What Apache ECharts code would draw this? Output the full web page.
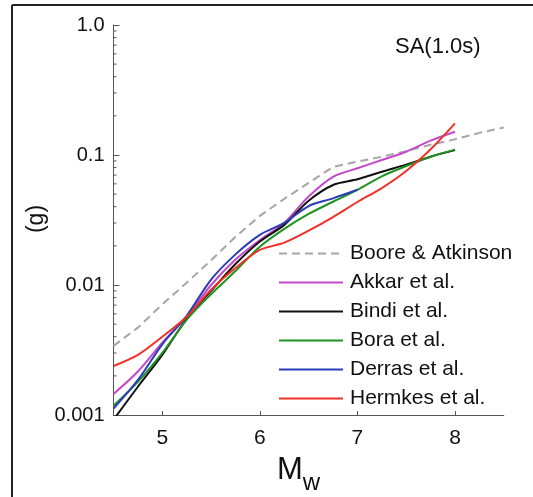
<!DOCTYPE html>
<html>
<head>
<meta charset="utf-8">
<script src="https://cdn.jsdelivr.net/npm/echarts@6/dist/echarts.min.js"></script>
<style>
html,body{margin:0;padding:0;background:#fff;}
#chart{width:533px;height:497px;}
</style>
</head>
<body>
<div id="chart"></div>
<script>
// ---- data ----
const magsFull = [4.5, 4.75, 5.0, 5.25, 5.5, 5.75, 6.0, 6.25, 6.5, 6.75, 7.0, 7.25, 7.5, 7.75, 8.0];
const magsBA = [4.5, 4.75, 5.0, 5.25, 5.5, 5.75, 6.0, 6.25, 6.5, 6.75, 7.0, 7.25, 7.5, 7.75, 8.0, 8.25, 8.5];
const magsDerras = [4.5, 4.75, 5.0, 5.25, 5.5, 5.75, 6.0, 6.25, 6.5, 6.75, 7.0];

const booreAtkinson = [0.0034, 0.0047, 0.0071, 0.0104, 0.0155, 0.0235, 0.034, 0.046, 0.061, 0.081, 0.089, 0.097, 0.107, 0.12, 0.132, 0.148, 0.163];
const akkar   = [0.00145, 0.00216, 0.0036, 0.0057, 0.0100, 0.0157, 0.0222, 0.030, 0.048, 0.068, 0.079, 0.0915, 0.106, 0.129, 0.151];
const bindi   = [0.00092, 0.00165, 0.0029, 0.0055, 0.0090, 0.0145, 0.0216, 0.029, 0.0445, 0.0588, 0.065, 0.0744, 0.0843, 0.097, 0.109];
const bora    = [0.00118, 0.0018, 0.0030, 0.0054, 0.0085, 0.0128, 0.0197, 0.027, 0.0352, 0.0437, 0.054, 0.0686, 0.0823, 0.097, 0.110];
const derras  = [0.00112, 0.00186, 0.0035, 0.0058, 0.0110, 0.0172, 0.0243, 0.030, 0.0405, 0.0464, 0.054];
const hermkes = [0.00238, 0.0029, 0.0040, 0.0057, 0.0092, 0.0135, 0.0186, 0.0212, 0.0262, 0.0333, 0.0435, 0.0557, 0.0753, 0.1106, 0.175];

const seriesNames = ['Boore & Atkinson', 'Akkar et al.', 'Bindi et al.', 'Bora et al.', 'Derras et al.', 'Hermkes et al.'];
const xTicks = [5, 6, 7, 8];
const yTicks = [0.001, 0.01, 0.1, 1];
const yTickLabels = ['0.001', '0.01', '0.1', '1.0'];
const yMinorTicks = [0.002,0.003,0.004,0.005,0.006,0.007,0.008,0.009,
                     0.02,0.03,0.04,0.05,0.06,0.07,0.08,0.09,
                     0.2,0.3,0.4,0.5,0.6,0.7,0.8,0.9];

const pair = (ms, vs) => vs.map((v, i) => [ms[i], v]);
const FONT = '"Liberation Sans", Arial, sans-serif';

const chart = echarts.init(document.getElementById('chart'), null, {renderer: 'canvas'});

function lineSeries(name, ms, vs, color, dashed, smooth) {
  return {
    name: name, type: 'line', data: pair(ms, vs),
    symbol: 'none', smooth: smooth, clip: true,
    lineStyle: {color: color, width: 2, type: dashed ? [8, 5] : 'solid'},
    itemStyle: {color: color},
    z: 3
  };
}

const option = {
  backgroundColor: '#fff',
  animation: false,
  grid: {left: 113.5, right: 29.2, top: 25, bottom: 82},
  xAxis: {
    type: 'value', min: 4.5, max: 8.5,
    axisLine: {lineStyle: {color: '#555', width: 1}},
    axisTick: {show: true, inside: true, length: 4, customValues: xTicks, lineStyle: {color: '#555'}},
    axisLabel: {customValues: xTicks, fontSize: 21, color: '#111', fontFamily: FONT, margin: 13},
    splitLine: {show: false}
  },
  yAxis: {
    type: 'log', logBase: 10, min: 0.001, max: 1,
    axisLine: {show: true, lineStyle: {color: '#555', width: 1}},
    axisTick: {show: true, inside: true, length: 6, lineStyle: {color: '#555'}},
    axisLabel: {
      fontSize: 20, color: '#111', fontFamily: FONT, margin: 9,
      formatter: function (v) {
        const i = Math.round(Math.log10(v)) + 3;
        return yTickLabels[i] !== undefined ? yTickLabels[i] : '';
      }
    },
    splitLine: {show: false},
    minorTick: {show: false}
  },
  legend: {
    data: seriesNames, orient: 'vertical', left: 278, top: 243,
    padding: 0, itemWidth: 64, itemHeight: 14, itemGap: 8,
    selectedMode: false,
    itemStyle: {opacity: 0},
    textStyle: {fontSize: 21, lineHeight: 21, color: '#111', fontFamily: FONT, padding: [0, 0, 0, 2]}
  },
  graphic: [
    {type: 'line', shape: {x1: 12, y1: 5, x2: 533, y2: 5}, style: {stroke: '#222', lineWidth: 2}},
    {type: 'line', shape: {x1: 12, y1: 5, x2: 12, y2: 497}, style: {stroke: '#222', lineWidth: 2}},
    {type: 'text', x: 395, y: 47, style: {text: 'SA(1.0s)', font: '22px ' + FONT, fill: '#111', textVerticalAlign: 'middle'}},
    {type: 'text', x: 37, y: 219, rotation: Math.PI / 2,
      style: {text: '(g)', font: '23px ' + FONT, fill: '#111', textAlign: 'center', textVerticalAlign: 'middle'}},
    {type: 'text', x: 277, y: 486,
      style: {text: '{m|M}{w|w}', rich: {m: {fontSize: 31, fontFamily: FONT, fill: '#111', verticalAlign: 'bottom'},
        w: {fontSize: 24, fontFamily: FONT, fill: '#111', verticalAlign: 'bottom', padding: [0, 0, -9, 0]}},
        textVerticalAlign: 'bottom'}}
  ],
  series: [
    lineSeries(seriesNames[0], magsBA, booreAtkinson, '#a6a6a6', true, false),
    lineSeries(seriesNames[1], magsFull, akkar, '#c449c8', false, 0.3),
    lineSeries(seriesNames[2], magsFull, bindi, '#111111', false, 0.3),
    lineSeries(seriesNames[3], magsFull, bora, '#1e9322', false, 0.3),
    lineSeries(seriesNames[4], magsDerras, derras, '#2b3cb8', false, 0.3),
    lineSeries(seriesNames[5], magsFull, hermkes, '#ee3228', false, 0.3),
    {
      type: 'custom', silent: true, clip: false, z: 2,
      data: yMinorTicks.map(v => [4.5, v]),
      renderItem: function (params, api) {
        const p = api.coord([api.value(0), api.value(1)]);
        return {type: 'line', shape: {x1: p[0], y1: p[1], x2: p[0] + 3, y2: p[1]},
          style: {stroke: '#555', lineWidth: 1}};
      }
    }
  ]
};
chart.setOption(option);
</script>
</body>
</html>
